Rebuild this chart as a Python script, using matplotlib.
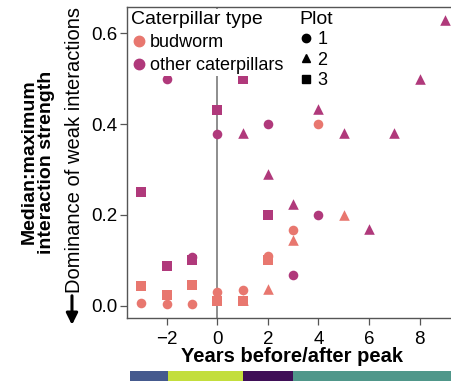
"""Median:maximum interaction strength around the outbreak peak."""

import matplotlib

matplotlib.use("Agg")
import matplotlib.pyplot as plt  # noqa: E402
from matplotlib.lines import Line2D  # noqa: E402

# years before/after peak, value, caterpillar type, plot
BUD_YEARS = [-3, -3, -2, -2, -1, -1, 0, 0, 1, 1, 1, 2, 2, 2, 3, 3, 4, 5]
BUD_VALUES = [0.005, 0.043, 0.004, 0.023, 0.003, 0.045, 0.03, 0.01, 0.034,
              0.01, 0.012, 0.11, 0.10, 0.037, 0.166, 0.144, 0.40, 0.20]
BUD_PLOTS = [1, 3, 1, 3, 1, 3, 1, 3, 1, 3, 2, 1, 3, 2, 1, 2, 1, 2]

OTHER_YEARS = [-3, -2, -2, -1, -1, 0, 0, 1, 1, 2, 2, 2, 3, 3, 4, 4, 5, 6, 7, 8, 9]
OTHER_VALUES = [0.25, 0.50, 0.087, 0.107, 0.10, 0.431, 0.378, 0.50, 0.38,
                0.40, 0.291, 0.20, 0.225, 0.067, 0.433, 0.20, 0.38, 0.168,
                0.38, 0.50, 0.629]
OTHER_PLOTS = [3, 1, 3, 1, 3, 3, 1, 3, 2, 1, 2, 3, 2, 1, 2, 1, 2, 2, 2, 2, 2]

PHASE_EDGES = [-3.45, -1.95, 1.0, 3.0, 10.0]
PHASE_COLORS = ["#455a8e", "#c3de3c", "#3f0f57", "#50978a"]

COLORS = {"budworm": "#e8776f", "other caterpillars": "#b0397b"}
MARKERS = {1: "o", 2: "^", 3: "s"}

plt.rcParams.update({
    "font.family": ["Liberation Sans", "DejaVu Sans"],
    "font.size": 13,
})

fig = plt.figure(figsize=(4.51, 3.81), dpi=100)
ax = fig.add_axes([0.2816, 0.1654, 0.733, 0.8163])
bar_ax = fig.add_axes([0.2816, 0.0, 0.733, 0.026])

ax.axvline(0, color="#7a7a7a", linewidth=1.2, zorder=1)

for name, years, values, plots in [
    ("budworm", BUD_YEARS, BUD_VALUES, BUD_PLOTS),
    ("other caterpillars", OTHER_YEARS, OTHER_VALUES, OTHER_PLOTS),
]:
    for plot, marker in MARKERS.items():
        xs = [x for x, p in zip(years, plots) if p == plot]
        ys = [y for y, p in zip(values, plots) if p == plot]
        size = 58 if marker == "^" else 48
        ax.scatter(xs, ys, marker=marker, s=size, color=COLORS[name],
                   linewidths=0, zorder=3)

ax.set_xlim(-3.57, 9.5)
ax.set_ylim(-0.027, 0.658)
ax.set_xticks([-2, 0, 2, 4, 6, 8], ["\u22122", "0", "2", "4", "6", "8"])
ax.set_yticks([0.0, 0.2, 0.4, 0.6], ["0.0", "0.2", "0.4", "0.6"])
ax.tick_params(direction="out", length=5, width=0.9, color="#555555",
               labelsize=13.5, pad=2)
ax.tick_params(axis="x", pad=4.5)
for spine in ax.spines.values():
    spine.set_color("#555555")
    spine.set_linewidth(1.0)

ax.set_xlabel("Years before/after peak", fontsize=14.5, fontweight="bold",
              labelpad=-1)
fig.text(0.084, 0.575, "Median:maximum\ninteraction strength", rotation=90,
         ha="center", va="center", fontsize=14, fontweight="bold",
         linespacing=0.95)
fig.text(0.166, 0.231, "Dominance of weak interactions", rotation=90,
         ha="center", va="bottom", fontsize=14.5)
fig.add_artist(matplotlib.patches.FancyArrowPatch(
    (0.1596, 0.231), (0.1596, 0.140), transform=fig.transFigure,
    arrowstyle="-|>", mutation_scale=17, linewidth=2.2, color="black"))

type_handles = [
    Line2D([], [], marker="o", linestyle="none", color=COLORS[name],
           markersize=7.5, label=name)
    for name in COLORS
]
leg1 = ax.legend(handles=type_handles, title="Caterpillar type",
                 loc="upper left", bbox_to_anchor=(0.0, 1.0), frameon=True,
                 fontsize=13, title_fontsize=14, handletextpad=0.15,
                 handlelength=0.9, borderaxespad=0.1, borderpad=0.1,
                 labelspacing=0.35, alignment="left")
leg1.get_frame().set_edgecolor("none")
leg1.get_frame().set_alpha(1)
leg1.get_frame().set_boxstyle("square", pad=0)
ax.add_artist(leg1)

plot_handles = [
    Line2D([], [], marker=m, linestyle="none", color="black",
           markersize=6, label=str(p))
    for p, m in MARKERS.items()
]
leg2 = ax.legend(handles=plot_handles, title="Plot", loc="upper left",
                 bbox_to_anchor=(0.51, 1.0), frameon=True, fontsize=13,
                 title_fontsize=14, handletextpad=0.2, handlelength=0.8,
                 borderaxespad=0.1, borderpad=0.1, labelspacing=0.2,
                 alignment="left")
leg2.get_frame().set_edgecolor("none")
leg2.get_frame().set_alpha(1)
leg2.get_frame().set_boxstyle("square", pad=0)

for left, right, color in zip(PHASE_EDGES[:-1], PHASE_EDGES[1:], PHASE_COLORS):
    bar_ax.axvspan(left, right, color=color, linewidth=0)
bar_ax.set_xlim(ax.get_xlim())
bar_ax.axis("off")

fig.savefig("out.png", dpi=100, facecolor="white")
